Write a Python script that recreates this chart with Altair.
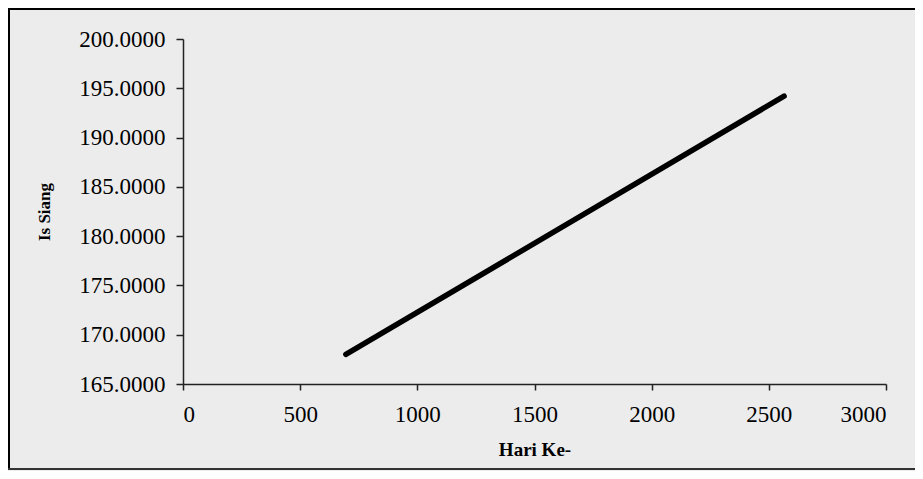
import altair as alt
import pandas as pd

# Data (straight line between two end points)
hari_ke = [695, 2565]
is_siang = [168.0, 194.2]

y_ticks = [165, 170, 175, 180, 185, 190, 195, 200]
x_ticks = [0, 500, 1000, 1500, 2000, 2500, 3000]

df = pd.DataFrame({"Hari Ke-": hari_ke, "Is Siang": is_siang})

FONT = "Liberation Serif"

line = alt.Chart(df).mark_line(color="black", strokeWidth=5.5, strokeCap="round").encode(
    x=alt.X(
        "Hari Ke-:Q",
        scale=alt.Scale(domain=[0, 3000], nice=False, zero=False),
        axis=alt.Axis(
            values=x_ticks,
            format="d",
            grid=False,
            tickSize=6,
            labelPadding=13,
            labelFontSize=23,
            title="Hari Ke-",
            titleFontSize=19,
            titleFontWeight="bold",
            titleY=56,
            titleBaseline="top",
        ),
    ),
    y=alt.Y(
        "Is Siang:Q",
        scale=alt.Scale(domain=[165, 200], nice=False, zero=False),
        axis=alt.Axis(
            values=y_ticks,
            format=".4f",
            grid=False,
            tickSize=7,
            labelPadding=11,
            labelFontSize=23,
            title="Is Siang",
            titleFontSize=17,
            titleFontWeight="bold",
            titleAngle=270,
            titleX=-138.5,
            titleY=172.5,
            titleAlign="center",
            titleBaseline="middle",
        ),
    ),
)

one = pd.DataFrame({"a": [0]})
left_edge = alt.Chart(one).mark_rule(color="black", strokeWidth=2).encode(
    x=alt.value(-174), y=alt.value(-30), y2=alt.value(430)
)
top_edge = alt.Chart(one).mark_rule(color="black", strokeWidth=2).encode(
    x=alt.value(-175), x2=alt.value(732), y=alt.value(-30)
)
bottom_edge = alt.Chart(one).mark_rule(color="#333333", strokeWidth=2).encode(
    x=alt.value(-175), x2=alt.value(732), y=alt.value(430)
)

chart = (
    alt.layer(left_edge, top_edge, bottom_edge, line)
    .properties(
        width=703,
        height=345,
        padding={"left": 175, "top": 31, "right": 29, "bottom": 87},
        autosize=alt.AutoSizeParams(type="none"),
        background="#ececec",
    )
    .configure_view(strokeWidth=0)
    .configure_axis(
        labelFont=FONT,
        titleFont=FONT,
        labelColor="black",
        titleColor="black",
        domainColor="#222222",
        tickColor="#222222",
        domainWidth=1.5,
        tickWidth=1.5,
    )
)

chart.save("out.html", embed_options={"renderer": "svg", "actions": False})
